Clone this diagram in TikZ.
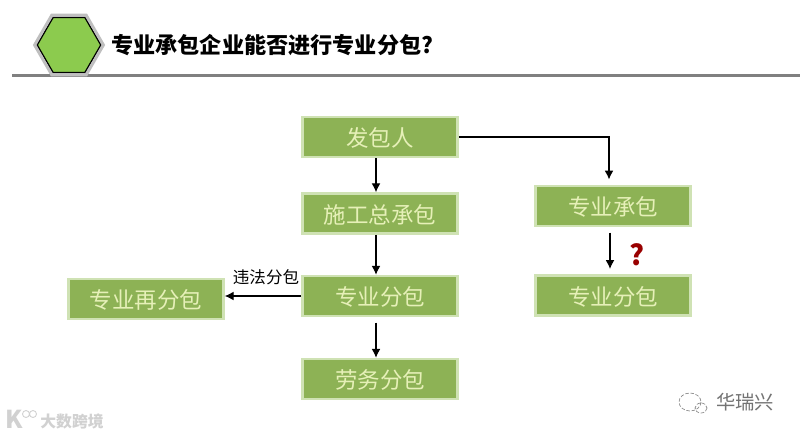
\documentclass[tikz,border=0pt]{standalone}
\usepackage{fontspec}
\setmainfont{Noto Sans CJK SC}
\usetikzlibrary{shapes.geometric,arrows.meta}
\definecolor{boxgreen}{HTML}{8DB255}
\definecolor{boxedge}{HTML}{CFE2B4}
\definecolor{boxtext}{HTML}{E6F0B8}
\definecolor{hexgreen}{HTML}{8CCB4E}
\definecolor{rulegray}{HTML}{808080}
\tikzset{
  stagebox/.style={draw=boxedge,fill=boxgreen,text=boxtext,line width=1.5pt,
    minimum width=3.1cm,minimum height=0.8cm,inner sep=0pt,text depth=0pt,font=\fontsize{12.8}{14}\selectfont},
  flow/.style={-{Latex[length=5pt,width=5pt]},line width=0.6pt,black},
  hexa/.style={regular polygon,regular polygon sides=6,inner sep=0pt}
}
\begin{document}
\begin{tikzpicture}[x=0.02cm,y=-0.02cm]
  \useasboundingbox (0,0) rectangle (800,436);
  \fill[white] (0,0) rectangle (800,436);
  % header
  \draw[rulegray,line width=2pt] (12,75.5) -- (800,75.5);
  \node[hexa,draw=black!25,fill=white,line width=1.6pt,minimum size=1.38cm] (hexrim) at (69,45) {};
  \node[hexa,draw=black,fill=hexgreen,line width=0.7pt,minimum size=1.27cm] (hexin) at (69,45) {};
  \node[anchor=west,inner sep=0pt,font=\fontsize{12.6}{15}\selectfont\bfseries] (title) at (111,45) {专业承包企业能否进行专业分包?};
  % boxes
  \node[stagebox] (owner) at (380,137) {发包人};
  \node[stagebox] (general) at (380,213.5) {施工总承包};
  \node[stagebox] (subcon) at (380,296) {专业分包};
  \node[stagebox] (labour) at (380,379) {劳务分包};
  \node[stagebox] (resub) at (146,299) {专业再分包};
  \node[stagebox] (special) at (613,206) {专业承包};
  \node[stagebox] (specsub) at (613,295.5) {专业分包};
  % arrows
  \draw[flow] ([xshift=-0.08cm]owner.south) -- ([xshift=-0.08cm]general.north);
  \draw[flow] ([xshift=-0.08cm]general.south) -- ([xshift=-0.08cm]subcon.north);
  \draw[flow,shorten <=3pt] ([xshift=-0.08cm]subcon.south) -- ([xshift=-0.08cm]labour.north);
  \draw[flow] (subcon.west) -- (subcon.west -| resub.east);
  \draw[flow,shorten >=3pt] (owner.east) -| ([xshift=-0.08cm]special.north);
  \draw[flow,shorten <=3pt,shorten >=3pt] ([xshift=-0.06cm]special.south) -- ([xshift=-0.06cm]specsub.north);
  % labels
  \node[inner sep=0pt,font=\fontsize{9.4}{11}\selectfont] (illegal) at (266,277) {违法分包};
  \node[inner sep=0pt,text=red!60!black,font=\fontsize{16}{18}\selectfont\bfseries] (query) at (637,255) {?};
  % watermarks
  \node[inner sep=0pt,text=black!18,font=\fontsize{9}{11}\selectfont\bfseries] (mark1) at (72,421) {大数跨境};
  \node[inner sep=0pt,text=black!18,font=\fontsize{14}{16}\selectfont\bfseries] (logo) at (14,419) {K};
  \draw[black!18,line width=0.5pt] (26,414) circle (3.5) (33,414) circle (3.5);
  \node[inner sep=0pt,text=black!55,font=\fontsize{11}{13}\selectfont] (mark2) at (745,402) {华瑞兴};
  \draw[black!45,line width=0.4pt,dash pattern=on 2pt off 1pt] (690,402) ellipse (11 and 9) (701,408) ellipse (6 and 5);
\end{tikzpicture}
\end{document}
